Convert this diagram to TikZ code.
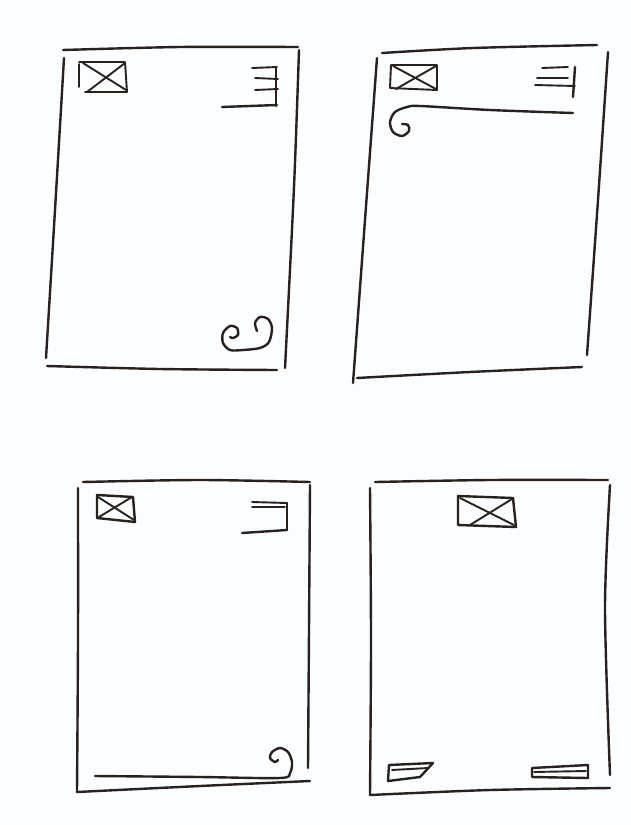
\documentclass[tikz,border=0pt]{standalone}
\definecolor{ink}{rgb}{0.16,0.13,0.11}
\definecolor{paper}{rgb}{0.988,0.992,1}
\tikzset{
  pen/.style={draw=ink, line width=2.4pt, line cap=round, line join=round},
  thinpen/.style={draw=ink, line width=1.9pt, line cap=round, line join=round}
}
\begin{document}
\begin{tikzpicture}[x=1pt,y=-1pt]
\fill[paper] (0,0) rectangle (631,825);
\useasboundingbox (0,0) rectangle (631,825);

% ---------- Page 1 (top left) ----------
\draw[pen] plot[smooth] coordinates {(63,50) (180,47) (298,47)};
\draw[pen] plot[smooth] coordinates {(64,58) (55,210) (46,358)};
\draw[pen] plot[smooth] coordinates {(299,50) (294,187) (285,368)};
\draw[pen] plot[smooth] coordinates {(47,366) (160,369) (277,370)};
% image box
\draw[thinpen] (79,62) -- (125,62) -- (127,92) -- (85,92);
\draw[thinpen] (79,64) -- (79,87);
\draw[thinpen] (83,63) -- (126,90);
\draw[thinpen] (125,63) -- (87,92);
% menu glyph
\draw[thinpen] (252,68) -- (277,67);
\draw[thinpen] (255,78) -- (278,79);
\draw[thinpen] (255,90) -- (278,89);
\draw[pen] (222,107) -- (277,105);
\draw[pen] (276,67) -- (276,106);
% ornament
\draw[pen] plot[smooth] coordinates {(257,331) (255,323) (260,317) (268,319) (272,328) (269,342) (260,348) (243,350) (230,350) (223,343) (223,333) (230,326) (237,328) (238,335) (233,338) (230,337)};

% ---------- Page 2 (top right) ----------
\draw[pen] plot[smooth] coordinates {(382,53) (473,48) (597,45)};
\draw[pen] plot[smooth] coordinates {(377,58) (365,220) (353,383)};
\draw[pen] plot[smooth] coordinates {(608,52) (598,200) (587,355)};
\draw[pen] plot[smooth] coordinates {(357,378) (470,372) (582,367)};
% image box
\draw[thinpen] (391,65) -- (437,65) -- (437,90) -- (390,88) -- cycle;
\draw[thinpen] (393,66) -- (436,89);
\draw[thinpen] (436,66) -- (396,89);
% menu glyph
\draw[thinpen] (542,68) -- (568,67);
\draw[thinpen] (537,78) -- (568,78);
\draw[thinpen] (535,85) -- (575,86);
\draw[pen] (575,67) -- (573,97);
% header rule with curl
\draw[pen] plot[smooth] coordinates {(573,113) (490,110) (420,106) (407,107) (395,112) (390,122) (393,132) (402,136) (409,131) (408,125) (402,124)};

% ---------- Page 3 (bottom left) ----------
\draw[pen] plot[smooth] coordinates {(83,482) (200,480) (310,482)};
\draw[pen] plot[smooth] coordinates {(78,488) (78,640) (77,792)};
\draw[pen] plot[smooth] coordinates {(310,485) (309,630) (308,768)};
\draw[pen] plot[smooth] coordinates {(77,792) (200,786) (310,781)};
% image box
\draw[pen] (97,495) -- (133,497) -- (135,522) -- (97,518) -- cycle;
\draw[thinpen] (98,497) -- (134,520);
\draw[thinpen] (132,497) -- (99,517);
% menu glyph
\draw[thinpen] (252,502) -- (287,503);
\draw[thinpen] (252,507) -- (285,507);
\draw[pen] (287,503) -- (287,530);
\draw[pen] (242,533) -- (287,530);
% footer rule with curl
\draw[pen] plot[smooth] coordinates {(95,776) (200,777) (280,778) (290,773) (292,762) (288,752) (280,748) (272,752) (270,758) (275,762) (278,760)};

% ---------- Page 4 (bottom right) ----------
\draw[pen] plot[smooth] coordinates {(375,482) (490,480) (608,480)};
\draw[pen] plot[smooth] coordinates {(370,488) (371,640) (370,795)};
\draw[pen] plot[smooth] coordinates {(610,485) (605,608) (610,775)};
\draw[pen] plot[smooth] coordinates {(370,795) (490,790) (610,788)};
% image box
\draw[pen] (458,496) -- (513,498) -- (516,527) -- (458,525) -- cycle;
\draw[thinpen] (460,498) -- (514,525);
\draw[thinpen] (512,499) -- (470,525);
% footer elements
\draw[pen] (433,763) -- (389,765) -- (388,781) -- (420,777) -- cycle;
\draw[thinpen] (392,770) -- (428,768);
\draw[pen] (532,768) -- (588,765) -- (588,778) -- (532,777) -- cycle;
\draw[thinpen] (534,772) -- (586,771);
\end{tikzpicture}
\end{document}
